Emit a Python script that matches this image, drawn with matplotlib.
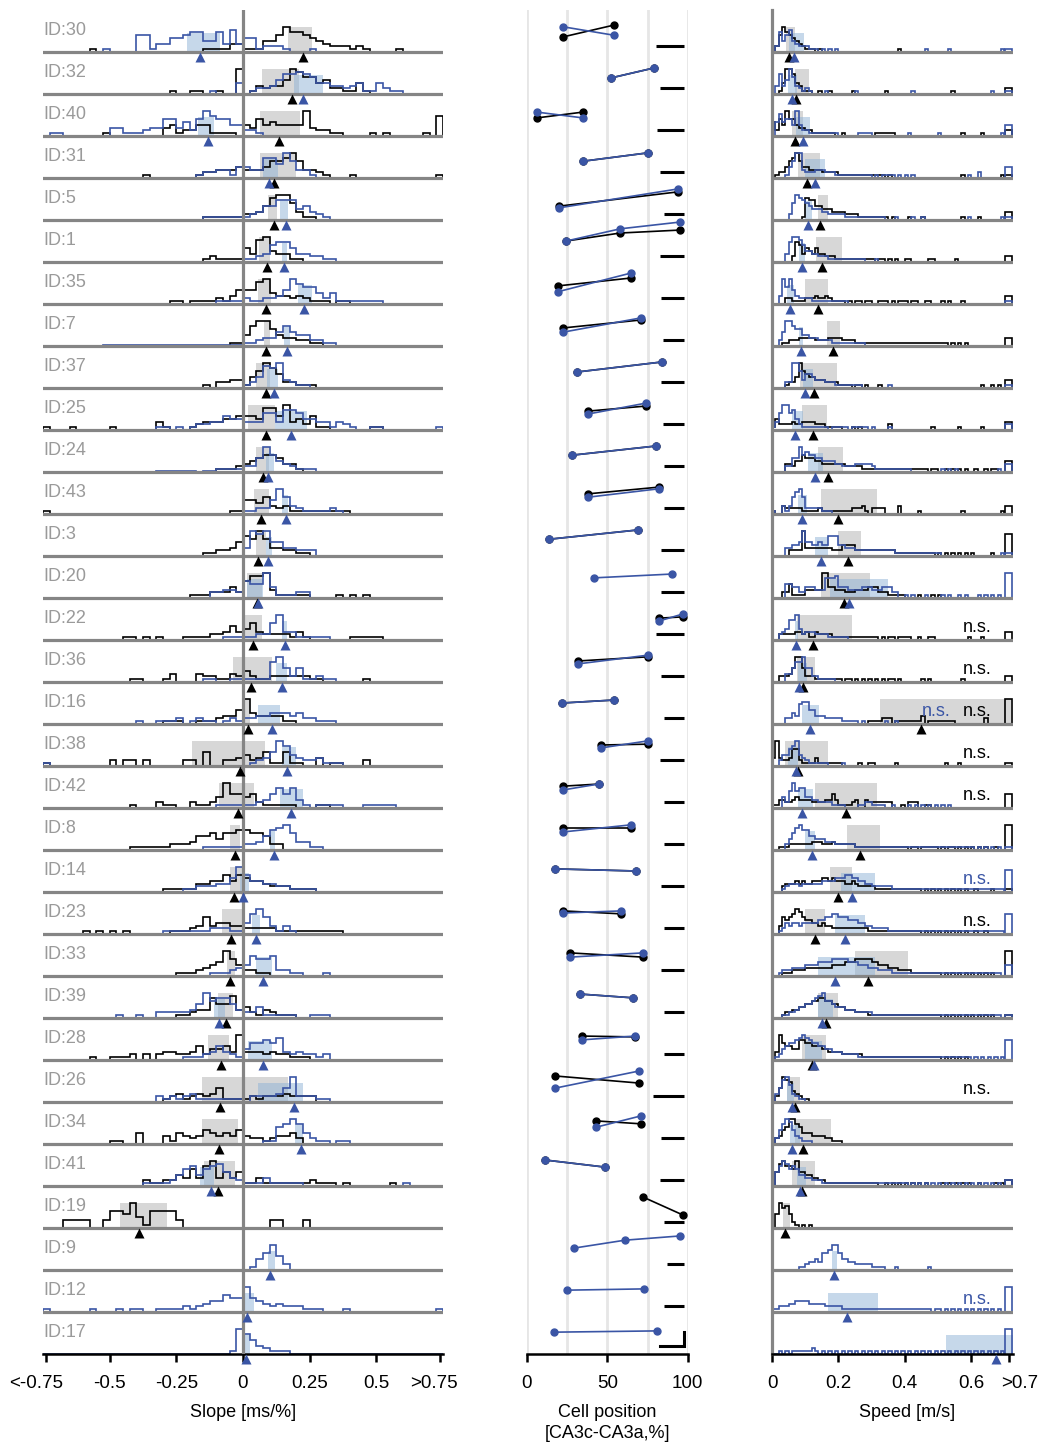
import numpy as np
import matplotlib
matplotlib.use('Agg')
import matplotlib.pyplot as plt
import matplotlib.transforms as mtransforms
from matplotlib.patches import Rectangle

plt.rcParams['font.family'] = ['Liberation Sans', 'DejaVu Sans']

# cells, top to bottom
cell_ids = [30, 32, 40, 31, 5, 1, 35, 7, 37, 25, 24, 43, 3, 20, 22, 36,
            16, 38, 42, 8, 14, 23, 33, 39, 28, 26, 34, 41, 19, 9, 12, 17]

# slope histograms, 60 bins of 0.025 from -0.75 to 0.75 (outer bins = overflow)
# one char per bin, 0-9 height, '.' = trace
slope_k = [
    "0000000100 0000000000 0000111133 1114469776 5432221210 0001000000",
    "0000000000 0000000001 0011001009 0132335986 6452211410 0000000000",
    "0000000001 0000000034 1224411110 4364544449 3221100001 0100000107",
    "0000000000 0000010000 0001223334 3334667963 3210001000 0000000001",
    "0000000000 0000000000 0000111111 2235899631 1000000000 0000000000",
    "0000000000 0000000000 0000121111 5389433110 0000000000 0000000000",
    "0000000000 0000000001 1011112135 5589433232 1110110000 0000000000",
    "0000000000 0000000000 0000000011 4799643322 1100000000 0000000000",
    "0000000000 0000000000 0000102233 1469752211 1000000000 0000000000",
    "1000100000 1000000310 0012333445 5548859342 5110000001 1000000000",
    "0000000000 0000000000 0000001112 3456653310 0000000000 0000000000",
    "1000000000 0000000000 0000000011 5546323111 1111110000 0000000000",
    "0000000000 0000000000 0000112235 7696332211 0000000000 0000000000",
    "0000000000 0000000000 0011122242 6889311111 0000101010 0000000000",
    "0000000000 0011010100 0111122353 4632222131 0000001111 1000000000",
    "0000000000 0001100013 0003221132 4211222222 1100000010 0000000000",
    "0000000000 0000000011 1001112335 9433331100 0000000000 0000000000",
    "1000000000 2022020000 0220500223 4235115110 0301100020 0000000000",
    "0000000000 0001000211 0021124955 4521111100 0110000000 0000000000",
    "0000000000 0001111112 2235564667 7665220000 0000000000 0000000000",
    "0000000000 0000000011 1113344646 5443222111 1000000000 0000000000",
    "0000001010 1010000001 1123634433 2222211111 1111100000 0000000000",
    "0000000000 0000000000 1112345964 2211000000 0000000000 0000000000",
    "0000000000 0000000000 1123375583 4213211100 0000000000 0000000000",
    "0000000100 1112020233 2235244539 3332322111 0000000000 0000000000",
    "0000000000 0000000012 3123235111 1212223222 2000000000 0000000000",
    "0000000000 1100400031 4323543435 3221233420 0000000000 0000000000",
    "0000000000 0000021122 4363793535 1131111111 2111010000 0010000000",
    "0003333003 6659416666 3000000000 0000330003 0000000000 0000000000",
    "", "", "",
]
slope_b = [
    "0000000001 0000661335 5677447383 5512221000 1000000000 0000000000",
    "0000000000 0000000000 0000010004 0122357787 6443323411 4211000000",
    "0110000000 3311123366 3526976644 2210000000 0000000000 0000000000",
    "0000000000 0000000000 0001223314 4337759633 1000000000 0000000000",
    "0000000000 0000000000 0000111111 1235577745 3210000000 0000000000",
    "0000000000 0000000000 0000000000 1123677533 2211000000 0000000000",
    "0000000000 0000000000 0000001111 2112235976 6424111111 1000000000",
    "000000000. .......... .......... 1123357544 2211000000 0000000000",
    "0000000000 0000000000 0000000000 1248793211 0000000000 0000000000",
    "0000000000 0000000110 1012233544 3336637764 4331321001 1000000001",
    "0000000000 0000000... ...0..1111 2259643211 1000000000 0000000000",
    "0000000000 0000000000 0000000000 1122596321 1112100000 0000000000",
    "0000000000 0000000000 0000000000 3989553322 2000000000 0000000000",
    "0000000000 0000000000 0000022332 6559411122 0000000000 0000000000",
    "0000000000 0000000000 0000000111 1122693311 1110000000 0000000000",
    "0000000000 0000000000 0000110011 1111795251 1211000000 0000000000",
    "0000000000 0000100111 2012110121 2233444342 2111000000 0000000000",
    "1000000000 0000000000 0000000000 0123597432 2311100000 0000000000",
    "0000000000 0000000000 0000001111 1123575731 0111100011 1110000000",
    "0000000000 0000000000 0000111111 2235789633 1100000000 0000000000",
    "0000000000 0000000000 0112223359 6443322111 1000000000 0000000000",
    "0000000000 0000000011 1111122211 4796313100 0000000000 0000000000",
    "0000000000 0000000000 0000011123 4766722110 0010000000 0000000000",
    "0000000000 0100100222 2235967753 2241111100 1110000000 0000000000",
    "0000000000 0000000000 0111235321 4667683232 2120000000 0000000000",
    "0000000000 0000000212 1231111111 0222235922 2110000000 0000000000",
    "0000000000 0000000000 0000000000 0001167974 2110110000 0000000000",
    "0000000000 0000011112 4674678532 1113111110 0000000000 0000100000",
    "",
    "0000000000 0000000000 0000000000 0146952000 0000000000 0000000000",
    "1000000100 0101100111 1212344655 9543232221 1100010000 0000000001",
    "0000000000 0000000000 0000000019 7532111000 0000000000 0000000000",
]
slope_k_med = [0.225, 0.184, 0.136, 0.117, 0.117, 0.09, 0.087, 0.087, 0.087, 0.087,
               0.075, 0.068, 0.056, 0.052, 0.037, 0.03, 0.02, -0.01, -0.02, -0.03,
               -0.034, -0.045, -0.05, -0.064, -0.083, -0.086, -0.09, -0.094, -0.39,
               None, None, None]
slope_k_iqr = [(0.17, 0.26), (0.07, 0.21), (0.065, 0.215), (0.065, 0.20), (0.095, 0.128),
               (0.06, 0.10), (0.057, 0.105), (0.08, 0.10), (0.05, 0.10), (0.02, 0.12),
               (0.05, 0.098), (0.04, 0.098), (0.05, 0.088), (0.015, 0.07), (0.007, 0.07),
               (-0.037, 0.11), (0.007, 0.027), (-0.19, 0.082), (-0.09, 0.04), (-0.05, -0.01),
               (-0.05, -0.005), (-0.08, 0.0), (-0.06, -0.03), (-0.093, -0.037), (-0.13, -0.052),
               (-0.154, 0.17), (-0.155, -0.02), (-0.146, -0.03), (-0.46, -0.285),
               None, None, None]
slope_b_med = [-0.16, 0.225, -0.13, 0.097, 0.16, 0.155, 0.23, 0.165, 0.115, 0.18,
               0.095, 0.16, 0.094, 0.056, 0.158, 0.147, 0.11, 0.165, 0.18, 0.117,
               0.0, 0.05, 0.075, -0.09, 0.075, 0.19, 0.217, -0.12, None,
               0.1, 0.015, 0.01]
slope_b_iqr = [(-0.21, -0.085), (0.19, 0.30), (-0.17, -0.11), (0.075, 0.13), (0.14, 0.17),
               (0.145, 0.165), (0.205, 0.26), (0.155, 0.175), (0.09, 0.13), (0.12, 0.24),
               (0.085, 0.115), (0.145, 0.17), (0.085, 0.11), (0.015, 0.075), (0.147, 0.165),
               (0.125, 0.165), (0.055, 0.14), (0.146, 0.20), (0.14, 0.225), (0.10, 0.12),
               (-0.01, 0.023), (0.035, 0.065), (0.05, 0.11), (-0.11, -0.068), (0.02, 0.11),
               (0.058, 0.225), (0.195, 0.225), (-0.16, -0.108), None,
               (0.095, 0.12), (0.0, 0.04), (0.0, 0.025)]

# cell positions [%] and vertical placement inside the row (0..1)
pos_k_x = [[22.5, 54], [52, 79], [6, 35], [35, 75.5], [20, 94], [24.5, 58, 95], [19, 65],
           [22.5, 71], [31, 84], [38, 74], [28, 80.5], [38, 82], [14, 69], [],
           [82, 97], [31.5, 75.5], [22, 54], [46, 75.5], [22.5, 44.5], [22.5, 65],
           [17.5, 68], [22.5, 58.5], [27, 72], [33, 66], [34.5, 67], [17.5, 70],
           [43, 71], [11, 48.5], [72, 97], [], [], []]
pos_k_y = [[0.36, 0.64], [0.38, 0.62], [0.43, 0.57], [0.40, 0.60], [0.33, 0.67],
           [0.5, 0.69, 0.76], [0.43, 0.62], [0.43, 0.62], [0.38, 0.62], [0.45, 0.57],
           [0.40, 0.62], [0.48, 0.64], [0.40, 0.62], [], [0.52, 0.55], [0.50, 0.60],
           [0.50, 0.57], [0.50, 0.52], [0.52, 0.57], [0.52, 0.52], [0.55, 0.50],
           [0.55, 0.48], [0.55, 0.45], [0.57, 0.48], [0.57, 0.55], [0.62, 0.45],
           [0.55, 0.48], [0.62, 0.45], [0.74, 0.31], [], [], []]
pos_b_x = [[22.5, 54], [52, 79], [6, 35], [35, 75.5], [20, 94], [24.5, 58, 95], [19, 65],
           [22.5, 71], [31, 84], [38, 74], [28, 80.5], [38, 82], [14, 69], [42, 90],
           [82, 97], [31.5, 75.5], [22, 54], [46, 75.5], [22.5, 44.5], [22.5, 65],
           [17.5, 68], [22.5, 58.5], [27, 72], [33, 66], [34.5, 67], [17.5, 70],
           [43, 71], [11, 48.5], [], [29, 61, 95], [25, 72.5], [17, 81]]
pos_b_y = [[0.60, 0.40], [0.38, 0.62], [0.57, 0.43], [0.40, 0.60], [0.29, 0.74],
           [0.5, 0.79, 0.95], [0.29, 0.74], [0.33, 0.67], [0.38, 0.62], [0.38, 0.64],
           [0.40, 0.62], [0.40, 0.60], [0.40, 0.62], [0.48, 0.57], [0.45, 0.62],
           [0.43, 0.64], [0.50, 0.57], [0.43, 0.60], [0.43, 0.57], [0.43, 0.60],
           [0.55, 0.50], [0.50, 0.55], [0.45, 0.55], [0.57, 0.48], [0.48, 0.57],
           [0.33, 0.74], [0.40, 0.67], [0.62, 0.45], [], [0.52, 0.71, 0.81],
           [0.52, 0.55], [0.52, 0.55]]
bar_len = [17, 15, 16.5, 15, 12, 15, 14, 13, 14, 13, 12.5, 12.5, 14, 14, 17, 14,
           12.5, 15, 12.5, 12.5, 14, 12.5, 14, 12.5, 12.5, 19, 14, 15, 12, 10.5, 12.5, 15]

# speed histograms, 70 bins of 0.01 m/s from 0 to 0.7, last char = >0.7
speed_k = [
    "0269765432 1110100000 0000000000 0000000010 0000000000 0000000000 0000000000 0",
    "0014997431 1100100100 0000100000 0000100000 0000000000 0000100000 0000000000 2",
    "5264966433 2211111110 0100000000 0111111000 0000000000 0000000100 0001000000 2",
    "0122467964 4333322222 1111111111 1111010000 0000000000 0000000100 0000000001 1",
    "0000000001 8775544433 3322221111 1111101000 0100010000 0000000100 0010000000 3",
    "0000002763 5435332221 1111111111 1011010100 1100000110 0000010000 0000000000 2",
    "0000221111 2223223211 1101011011 0011101011 1011001100 0101000100 0000000000 3",
    "0001122233 3332222333 3222211111 1111111111 1111111111 1110101010 0000000000 3",
    "0000122496 5443332222 1111011010 0010000000 0000000000 0000000000 0001001010 3",
    "1422223223 3332221111 1000101000 0000020000 0000000010 0000001000 0001000000 3",
    "0000332446 5554433333 3322222111 1111111111 1111111011 0010101010 0100101100 4",
    "1003222221 1111211111 1111222310 2222000030 0000100000 0000000100 0000000001 3",
    "0000022229 3333333322 2444422222 2222222111 1111111110 1010101010 1000001000 8",
    "0002251111 3333399443 3322233334 4422211111 0000100010 1000000000 0000000000 0",
    "0022222332 3113222211 1111111111 1101011011 1100100110 0000000001 0001000000 3",
    "0022235995 2221111111 1011010101 0101011010 0000010100 0000000100 0000000000 2",
    "0000000000 0000000000 0000000001 1112220111 1111130111 1111100000 0000200000 9",
    "3932236621 1113111111 1000001001 1000000100 0000000000 0010001000 0000000000 1",
    "1133223433 3322223353 1111230032 2222220001 0222001100 0000000000 0000000000 5",
    "0011122222 2233322232 2222211111 1111111111 1011011111 0101101010 1010100100 9",
    "0002333434 3344455454 4433432222 2111111111 1111101010 1010101010 0100001000 1",
    "0036567986 5544343322 2222222221 1111111111 1111101010 1010101010 0100100000 0",
    "0001112222 3333333344 4455566666 5544433322 2211111111 1010101010 1010101000 9",
    "0001223344 5566776655 4433322221 1111111111 1111111111 1010101010 1010101000 1",
    "0396554477 6655544333 3222222111 1111111111 1111111111 1010101010 0000000000 0",
    "0259874321 1000000000 0000000000 0000000000 0000000000 0000000000 0000000000 0",
    "0235699764 4433332211 1000000000 0000000000 0000000000 0000000000 0000000000 0",
    "0589776955 4433221111 1111111111 1100101010 1010101000 0101010101 0010000101 2",
    "0597852101 0100000000 0000000000 0000000000 0000000000 0000000000 0000000000 0",
    "", "", "",
]
speed_b = [
    "0274684322 2111010101 0000000000 0000000000 0000001000 0001000000 0000000001 1",
    "0373596321 2100001000 0000010000 0000000000 0010000000 0000000000 0000001000 1",
    "0585664942 2111111111 0000001111 0000000000 0100000000 1000000000 0000000001 4",
    "0000146993 2223332221 1111111111 0101111010 1010000000 0000000001 0020000000 4",
    "0000026987 6544433222 2211111111 1111000100 0010010000 0000000001 0000000001 1",
    "0000379986 4433222111 1111111100 0100000000 0000000000 0000000000 0000000000 0",
    "0039695322 2211111111 1110000000 0000000000 0000000000 0000000000 0000000000 1",
    "0025997664 4333222211 1111111100 0000000000 0000000000 0000000000 0000000000 0",
    "0000229963 5543332221 1111111000 0000010000 0000000000 0000000000 0000000000 1",
    "1369967421 1111111011 1110111110 1000010000 0000000000 0000000000 0000000000 2",
    "0000225596 7665544443 3222233333 2111111111 1100000000 0101010000 0000000010 3",
    "1003136896 2222211100 0000000000 0000000000 0000000000 0000000000 0000000000 0",
    "0000334459 5544544777 4433322222 2222222111 1111111111 1000000000 0000000001 1",
    "0000554422 4443337778 4443333444 3334442200 1010001000 0101001010 0010101010 9",
    "0023477942 3332222111 1110000000 0000000000 0000000000 0000000000 0000000000 0",
    "0000335779 5522111110 0000000000 0000000000 0000000000 0000000000 0000000000 0",
    "0000224378 8553332222 2111110100 0000100100 0000000000 0000000000 0000000000 0",
    "0024467943 2111111000 0100000000 0000000000 0000000000 0000000000 0000000000 0",
    "0004269677 4433222211 1100001122 1111001000 0101010101 0101000000 0000000000 0",
    "0000246897 7554443332 2222211111 1111111111 1111111111 1111111111 1010101010 1",
    "0001233323 3333344445 5566554433 2222221111 1111111111 1111111111 1111111111 8",
    "0012434434 4444556677 6665554433 2222211111 1111111111 1111111111 1111111111 7",
    "0012223333 4444555566 6665554443 3322221111 1111111111 1111111111 1111111110 4",
    "0001122344 5567896654 4433322222 1111111111 1111111111 1111111111 1111111110 1",
    "0124566789 8766554433 3222221111 1111111111 1111111111 1111111111 0101010101 7",
    "0358963211 0000000000 0000000000 0000000000 0000000000 0000000000 0000000000 0",
    "0257985321 1100000000 0000000000 0000000000 0000000000 0000000000 0000000000 0",
    "0579867644 3322211111 1111111111 1111111111 1010101010 1010101010 1010101010 2",
    "",
    "0000000011 2334366799 6443322222 1111000100 0000000100 0000000000 0000000000 0",
    "1122233444 4333332222 2111111111 1111111111 1111111101 1010101010 1010101010 9",
    "0010101111 1121010101 0101010101 0101010101 0101010101 0101010101 0101010101 9",
]
speed_k_med = [0.051, 0.072, 0.07, 0.105, 0.145, 0.15, 0.138, 0.183, 0.127, 0.123,
               0.168, 0.20, 0.23, 0.217, 0.125, 0.093, 0.449, 0.079, 0.222, 0.265,
               0.20, 0.13, 0.29, 0.163, 0.12, 0.07, 0.093, 0.09, 0.039, None, None, None]
speed_k_iqr = [(0.042, 0.07), (0.07, 0.11), (0.06, 0.093), (0.078, 0.145), (0.14, 0.17),
               (0.133, 0.21), (0.10, 0.17), (0.165, 0.205), (0.084, 0.195), (0.09, 0.165),
               (0.14, 0.215), (0.148, 0.316), (0.20, 0.268), (0.148, 0.295), (0.075, 0.24),
               (0.075, 0.13), (0.325, 0.72), (0.04, 0.168), (0.13, 0.316), (0.226, 0.325),
               (0.175, 0.24), (0.10, 0.16), (0.25, 0.41), (0.138, 0.20), (0.09, 0.163),
               (0.045, 0.084), (0.07, 0.178), (0.06, 0.13), (0.033, 0.054), None, None, None]
speed_b_med = [0.066, 0.06, 0.093, 0.13, 0.108, 0.09, 0.054, 0.087, 0.10, 0.07,
               0.13, 0.09, 0.148, 0.231, 0.072, 0.082, 0.114, 0.072, 0.09, 0.12,
               0.24, 0.22, 0.19, 0.15, 0.127, 0.06, 0.06, 0.084, None, 0.187, 0.226, 0.675]
speed_b_iqr = [(0.05, 0.095), (0.048, 0.075), (0.072, 0.115), (0.10, 0.16), (0.10, 0.12),
               (0.08, 0.10), (0.045, 0.065), (0.08, 0.093), (0.094, 0.125), (0.06, 0.093),
               (0.108, 0.155), (0.078, 0.105), (0.13, 0.168), (0.175, 0.35), (0.068, 0.078),
               (0.078, 0.105), (0.09, 0.142), (0.048, 0.079), (0.078, 0.123), (0.10, 0.13),
               (0.208, 0.31), (0.19, 0.28), (0.138, 0.31), (0.138, 0.183), (0.10, 0.15),
               (0.045, 0.066), (0.054, 0.084), (0.075, 0.102), None, (0.18, 0.196),
               (0.168, 0.32), (0.524, 0.726)]
ns_black = [22, 36, 16, 38, 42, 23, 26]
ns_blue = [16, 14, 12]

BLUE = '#3a55a5'
LINE_GRAY = '#858585'
LABEL_GRAY = '#9a9a9a'
n = len(cell_ids)
slope_edges = np.linspace(-0.75, 0.75, 61)
speed_edges = np.linspace(0, 0.7, 71)
over_edges = np.array([0.7025, 0.7225])


def heights(s, nb):
    v = [0.3 if c == '.' else int(c) for c in s.replace(' ', '')]
    v = (v + [0] * nb)[:nb]
    return np.array(v, dtype=float) / 9 * 0.6


def draw_series(ax, base, s, nb, edges, med, iqr, color, face, alpha, rh):
    if not s:
        return
    h = heights(s, nb + (1 if edges is speed_edges else 0))
    ax.add_patch(Rectangle((iqr[0], base), iqr[1] - iqr[0], rh, facecolor=face,
                           alpha=alpha, lw=0, zorder=1))
    ax.stairs(base + h[:nb], edges, baseline=base, color=color, lw=1.2, zorder=2)
    if edges is speed_edges and h[nb] > 0:
        ax.stairs([base + h[nb]], over_edges, baseline=base, color=color, lw=1.2, zorder=2)
    ax.plot(med, base - 0.11, marker='^', ms=7, color=color, mec='none',
            clip_on=False, zorder=6)


def shift_label(ax, idx, dx_px):
    # nudge one tick label sideways (pixels)
    lab = ax.get_xticklabels()[idx]
    off = mtransforms.ScaledTranslation(dx_px / 100, 0, fig.dpi_scale_trans)
    lab.set_transform(lab.get_transform() + off)


fig = plt.figure(figsize=(10.38, 14.45), dpi=100)
W, H = 1038, 1445
bot, ht = 91 / H, 1344 / H
ax1 = fig.add_axes([43 / W, bot, 400 / W, ht])
ax2 = fig.add_axes([527 / W, bot, 160.7 / W, ht])
ax3 = fig.add_axes([772 / W, bot, 241 / W, ht])

for ax in (ax1, ax2, ax3):
    ax.set_ylim(0, n)
    ax.set_yticks([])
    for side in ('top', 'right', 'left'):
        ax.spines[side].set_visible(False)
    ax.spines['bottom'].set_linewidth(1.8)
    ax.tick_params(axis='x', length=6, width=1.8, labelsize=13.5, pad=9)

# slope panel
ax1.set_xlim(-0.75, 0.75)
ax1.axvline(0, color=LINE_GRAY, lw=2.3, zorder=3)
for i, cid in enumerate(cell_ids):
    base = n - 1 - i
    if i < n - 1:
        ax1.axhline(base, color=LINE_GRAY, lw=2.3, zorder=3)
    ax1.text(-0.75, base + 0.4, f'ID:{cid}', color=LABEL_GRAY, fontsize=13,
             ha='left', va='baseline', zorder=7)
    draw_series(ax1, base, slope_k[i], 60, slope_edges, slope_k_med[i], slope_k_iqr[i],
                'black', '#d0d0d0', 0.85, 0.6)
    draw_series(ax1, base, slope_b[i], 60, slope_edges, slope_b_med[i], slope_b_iqr[i],
                BLUE, '#8fb3d6', 0.5, 0.46)
ax1.set_xticks([-0.7375, -0.5, -0.25, 0, 0.25, 0.5, 0.7375],
               ['<-0.75', '-0.5', '-0.25', '0', '0.25', '0.5', '>0.75'])
ax1.set_xlabel('Slope [ms/%]', fontsize=13)
ax1.xaxis.set_label_coords(0.5, -0.037)
shift_label(ax1, 0, -10)
shift_label(ax1, 6, -6)

# cell position panel
ax2.set_xlim(0, 100)
for gx in (0, 25, 50, 75, 100):
    ax2.axvline(gx, color='#e6e6e6', lw=2, zorder=0)
for i in range(n):
    base = n - 1 - i
    if pos_k_x[i]:
        ax2.plot(pos_k_x[i], base + np.array(pos_k_y[i]), '-o', color='black',
                 lw=1.2, ms=5, zorder=3)
    if pos_b_x[i]:
        ax2.plot(pos_b_x[i], base + np.array(pos_b_y[i]), '-o', color=BLUE,
                 lw=1.2, ms=5, zorder=4)
    if i < n - 1:
        ax2.plot([97.5 - bar_len[i], 97.5], [base + 0.14] * 2, color='black',
                 lw=2.2, solid_capstyle='butt')
    else:
        ax2.plot([97.5 - bar_len[i], 97.5, 97.5], [base + 0.19, base + 0.19, base + 0.52],
                 color='black', lw=2.2, solid_joinstyle='miter')
ax2.set_xticks([0, 50, 100])
ax2.set_xlabel('Cell position\n[CA3c-CA3a,%]', fontsize=13, linespacing=1.3)
ax2.xaxis.set_label_coords(0.5, -0.037)

# speed panel
ax3.set_xlim(0, 0.726)
ax3.spines['left'].set_visible(True)
ax3.spines['left'].set_color(LINE_GRAY)
ax3.spines['left'].set_linewidth(2.3)
for i, cid in enumerate(cell_ids):
    base = n - 1 - i
    if i < n - 1:
        ax3.axhline(base, color=LINE_GRAY, lw=2.3, zorder=3)
    draw_series(ax3, base, speed_k[i], 70, speed_edges, speed_k_med[i], speed_k_iqr[i],
                'black', '#d0d0d0', 0.85, 0.6)
    draw_series(ax3, base, speed_b[i], 70, speed_edges, speed_b_med[i], speed_b_iqr[i],
                BLUE, '#8fb3d6', 0.5, 0.46)
    if cid in ns_black:
        ax3.text(0.617, base + 0.19, 'n.s.', fontsize=13, color='black',
                 ha='center', va='baseline', zorder=7)
    if cid in ns_blue:
        bx = 0.494 if cid in ns_black else 0.617
        ax3.text(bx, base + 0.19, 'n.s.', fontsize=13, color=BLUE,
                 ha='center', va='baseline', zorder=7)
ax3.set_xticks([0, 0.2, 0.4, 0.6, 0.7125], ['0', '0.2', '0.4', '0.6', '>0.7'])
ax3.set_xlabel('Speed [m/s]', fontsize=13)
ax3.xaxis.set_label_coords(0.56, -0.037)
shift_label(ax3, 4, 11)

fig.savefig('out.png', dpi=100)
